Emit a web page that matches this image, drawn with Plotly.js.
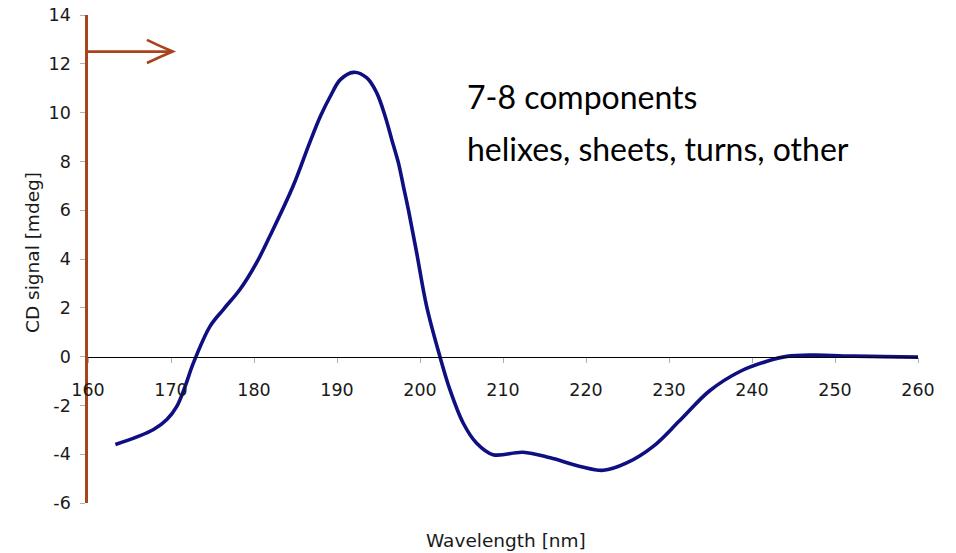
<!DOCTYPE html>
<html>
<head>
<meta charset="utf-8">
<script src="https://cdn.plot.ly/plotly-3.0.1.min.js"></script>
<style>
  html, body { margin: 0; padding: 0; background: #fff; }
  #chart { width: 956px; height: 553px; }
</style>
</head>
<body>
<div id="chart"></div>
<script>
// CD spectrum: wavelength (nm) vs. CD signal (mdeg)
const wavelength = [163.3, 165.9, 167.9, 169.5, 170.7, 171.7, 172.7, 174.7, 176.3,
  178.3, 180.3, 181.9, 184.7, 186.7, 188.0, 189.2, 190.4, 192.0,
  193.6, 194.8, 195.8, 196.6, 197.4, 198.0, 198.6, 199.6, 200.8, 202.4,
  203.6, 205.2, 206.8, 208.8, 212.4, 215.7, 219.3, 222.1, 224.9, 228.1,
  231.3, 234.9, 238.6, 241.8, 244.2, 247.4, 252.2, 255.8, 260.0];
const signal = [-3.6, -3.29, -2.99, -2.58, -2.04, -1.22, -0.26, 1.24, 1.93,
  2.75, 3.84, 4.93, 6.98, 8.76, 9.85, 10.67, 11.35, 11.65,
  11.42, 10.8, 9.85, 8.89, 7.94, 6.98, 6.02, 4.25, 2.06, 0.0,
  -1.35, -2.72, -3.54, -4.02, -3.92, -4.15, -4.5, -4.66, -4.36, -3.68,
  -2.62, -1.4, -0.6, -0.19, 0.01, 0.06, 0.02, 0.0, -0.02];

const xTicks = [160, 170, 180, 190, 200, 210, 220, 230, 240, 250, 260];
const yTicks = [-6, -4, -2, 0, 2, 4, 6, 8, 10, 12, 14];

const xTitle = 'Wavelength [nm]';
const yTitle = 'CD signal [mdeg]';
const noteLines = ['7-8 components', 'helixes, sheets, turns, other'];

// Arrow pointing into the plot at the 12.5 mdeg level
const arrowLevel = 12.5;
const arrowTip = 170.2;

const brown = '#a8431c';
const navy = '#0f0f82';
const axisFamily = 'DejaVu Sans, sans-serif';
const tickFont = { family: axisFamily, size: 17.5, color: '#1a1a1a' };
const titleFont = { family: axisFamily, size: 18.5, color: '#1a1a1a' };
const noteFont = { family: 'Lato, Open Sans, sans-serif', size: 32, color: '#000' };

const trace = {
  x: wavelength,
  y: signal,
  type: 'scatter',
  mode: 'lines',
  line: { color: navy, width: 3.6, shape: 'spline', smoothing: 1 },
  hoverinfo: 'skip'
};

// pixel -> paper helpers for the 956x553 figure with the margins below
const L = 88, R = 38, T = 15, B = 50, W = 956, H = 553;
const px = v => (v - L) / (W - L - R);
const py = v => (H - B - v) / (H - T - B);

const layout = {
  width: W,
  height: H,
  margin: { l: L, r: R, t: T, b: B },
  paper_bgcolor: '#fff',
  plot_bgcolor: '#fff',
  showlegend: false,
  xaxis: {
    range: [160, 260],
    tickvals: xTicks,
    ticktext: xTicks.map(String),
    anchor: 'free',
    position: 0.3,
    showline: true,
    linecolor: '#000',
    linewidth: 1,
    ticks: 'outside',
    ticklen: 5,
    tickcolor: '#b0b0b0',
    tickwidth: 1,
    ticklabelstandoff: 12,
    showgrid: false,
    zeroline: false,
    tickfont: tickFont
  },
  yaxis: {
    range: [-6, 14],
    tickvals: yTicks,
    ticktext: yTicks.map(String),
    showline: true,
    linecolor: brown,
    linewidth: 2.7,
    ticks: 'outside',
    ticklen: 5,
    tickcolor: '#b0b0b0',
    tickwidth: 1,
    ticklabelstandoff: 6,
    showgrid: false,
    zeroline: false,
    tickfont: tickFont
  },
  shapes: [
    { type: 'line', xref: 'x', yref: 'y', x0: 160, x1: arrowTip, y0: arrowLevel, y1: arrowLevel,
      line: { color: brown, width: 2.7 } },
    { type: 'path', xref: 'x', yref: 'y',
      path: 'M 167.1 12.98 Q 168.8 12.7 ' + arrowTip + ' ' + arrowLevel + ' Q 168.8 12.3 167.1 12.03',
      line: { color: brown, width: 2.7 } }
  ],
  annotations: [
    { xref: 'paper', yref: 'paper', x: px(506), y: py(540), xanchor: 'center', yanchor: 'middle',
      text: xTitle, showarrow: false, font: titleFont },
    { xref: 'paper', yref: 'paper', x: px(33), y: py(252), xanchor: 'center', yanchor: 'middle',
      text: yTitle, showarrow: false, textangle: -90, font: titleFont },
    { xref: 'paper', yref: 'paper', x: px(465), y: py(96), xanchor: 'left', yanchor: 'middle',
      text: noteLines[0], showarrow: false, font: noteFont },
    { xref: 'paper', yref: 'paper', x: px(465), y: py(148), xanchor: 'left', yanchor: 'middle',
      text: noteLines[1], showarrow: false, font: noteFont }
  ]
};

Plotly.newPlot('chart', [trace], layout, { displayModeBar: false, staticPlot: true });
</script>
</body>
</html>
